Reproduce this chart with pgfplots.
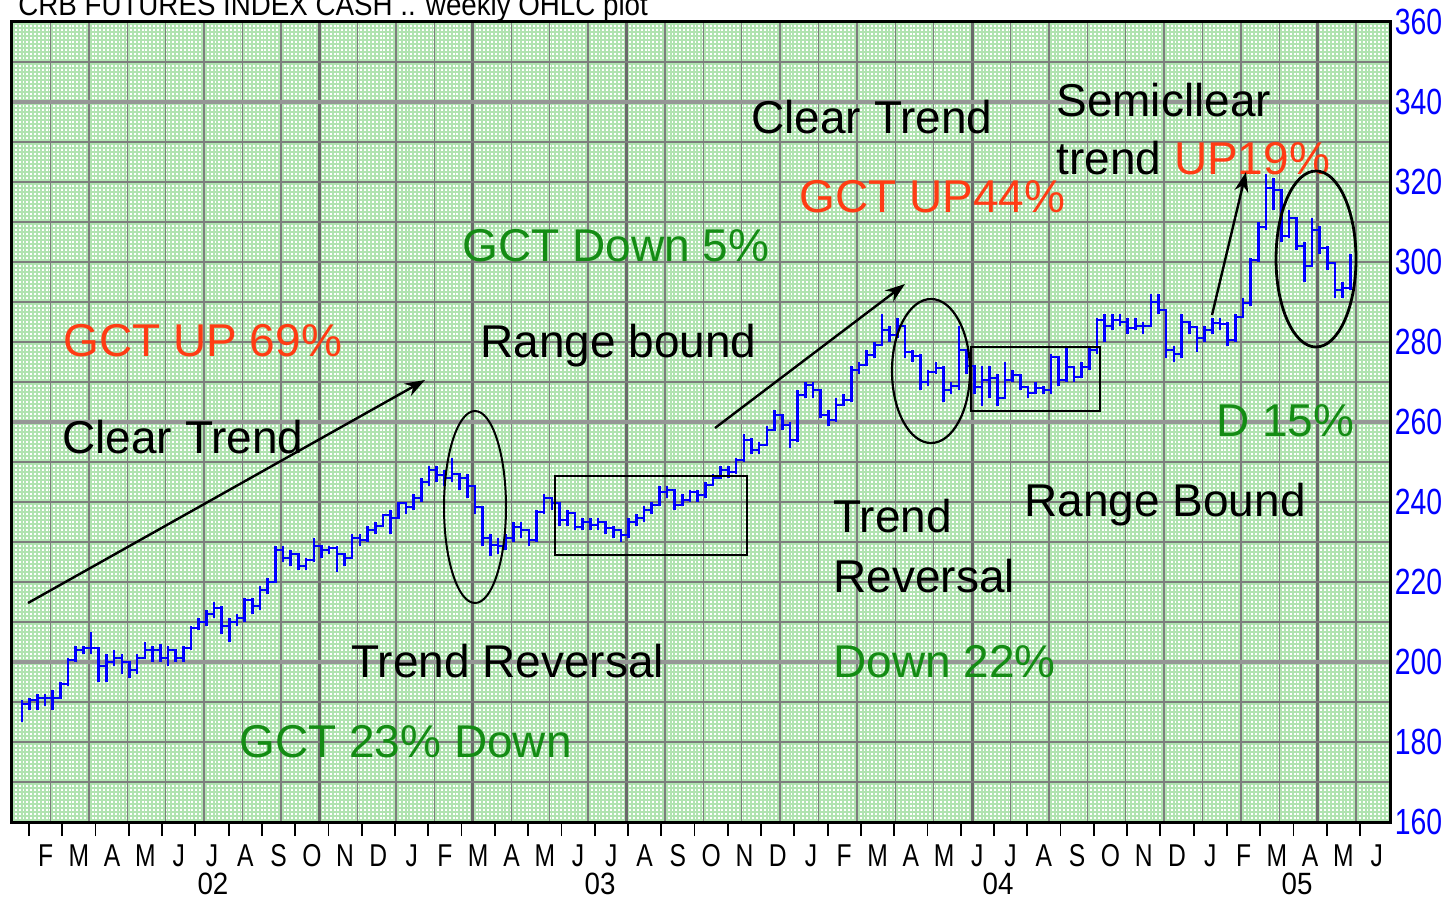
\documentclass[border=0pt]{standalone}
\usepackage{fontspec}
\setmainfont{Liberation Sans}
\newfontfamily\condfont{Liberation Sans}[FakeStretch=0.78]
\newfontfamily\titlefont{Liberation Sans}[FakeStretch=0.9]
\usepackage{pgfplots}
\pgfplotsset{compat=1.18}
\usepackage{pgfplotstable}
\usetikzlibrary{arrows.meta}

\definecolor{gridgreen}{RGB}{176,227,176}
\definecolor{gridgrey}{RGB}{125,125,125}
\definecolor{gridgreyl}{RGB}{150,150,150}
\definecolor{annred}{RGB}{255,60,20}
\definecolor{anngreen}{RGB}{20,140,20}
\definecolor{seriesblue}{RGB}{0,0,255}

% weekly CRB futures index: w = week number, h = high, l = low, c = close
\pgfplotstableread{
w h l c
0 190.5 185 189.5
1 191 188 190.5
2 192 188 191
3 192 189 191
4 193 188 191
5 195 191 194.5
6 201 194 200.5
7 204 200 203
8 204 202 203.5
9 207.5 202 203.5
10 203 195 199
11 202 195 200
12 203 199 201
13 202 197 200
14 200 196 198
15 202 197 201
16 205 201 203
17 204 200 203
18 204.5 200 201
19 204 199 203
20 203 200 201
21 204 200 203.5
22 209 203 208.5
23 211 208 210
24 213 209 212
25 215 211 213.5
26 214 207 209
27 211 205 210
28 212 209 211
29 216 210 215.5
30 216 212 214
31 219 213 218
32 221 217 220
33 229 221 228
34 229 225 226
35 228 224 227
36 227 223 224
37 226 223 225.5
38 231 225 229
39 229 226 228
40 229 227 228.5
41 229 222.5 227
42 227 224 226
43 232 226 231
44 232 229 230.5
45 234 230 233
46 235 232 234
47 237 234 236.75
48 238 232 236
49 240 236 239.75
50 240 237 238.75
51 242 238 241
52 246 240 245
53 249 244 248
54 249 245 246.75
55 248 244 246
56 251 245 247
57 247 243 246
58 247 241 244
59 244 237 238.75
60 238 229 231
61 232 226.5 229.25
62 231 227 229
63 232 228 231
64 235 230 233.75
65 235 231 233
66 233 229 230.5
67 238 230 237.5
68 242 237 241
69 241 238 239.75
70 238 234 235.5
71 238 234 237.25
72 236 233 233.75
73 236 233 235
74 236 233 234.25
75 236 233 235
76 235 232 233.5
77 234 231 233
78 233 230 231.75
79 236 231 235
80 237 234 236
81 239 235 238
82 240 237 239.25
83 244 239 242.5
84 244 241 243
85 243 238 239.25
86 242 239 240.5
87 243 240 242.5
88 243 240 241.75
89 245 241 244.25
90 247 244 246
91 249 246 248
92 249 246 247.5
93 251 247 250.5
94 257 250 255.5
95 256 252 253
96 255 252 254.25
97 259 254 258
98 263 258 261.75
99 262 258 259.25
100 260 253.5 255.5
101 268 255 266.75
102 270 266 269.25
103 270 266 268
104 268 261 261.75
105 263 259 260.5
106 266 260 264.25
107 267 264 265.5
108 274 265 273
109 275 272 274.25
110 278 274 276.75
111 280 276 279.25
112 287 279 283
113 284 280 281.75
114 286 281 284
115 284 276 277.5
116 278 275 276.5
117 277 268 270
118 273 269 272.5
119 275 272 273.5
120 274 265 268
121 270 267 269
122 284 268 278
123 278 272 274
124 274 267 268.75
125 274 264 270.5
126 274 266 271
127 272 264 266
128 275 266 270.5
129 273 270 271.75
130 272 268 268.75
131 269 266 267.25
132 270 267 268.5
133 269 267 268
134 277 267 276.25
135 276 269 270.5
136 279 270 273.75
137 274 270 271.25
138 275 271 273.75
139 279 273 278
140 286 277 285.5
141 287 280 284
142 287 283 285.5
143 287 284 285
144 286 282 283.5
145 286 283 284
146 285 282 284
147 292 284 290
148 292 287 288
149 288 276 278
150 279 275 277
151 287 276 285
152 285 282 283.75
153 284 277.5 281
154 284 280 283
155 286 282 284.75
156 286 283 284.5
157 285 279 280.5
158 287 280 286.25
159 291 286 289.75
160 301 289 300.5
161 310 300 308.75
162 322 308 318.5
163 321 313 318
164 318 305 306.5
165 313 306 311
166 311 303 304
167 305 295 299
168 311 299 308
169 309 302 303.5
170 304 298 299.75
171 300 291 293
172 295 291 293.5
173 302 293 301
}\crb

\begin{document}
\begin{tikzpicture}
\useasboundingbox (0,0) rectangle (724.5pt,451pt);

% ---- chart paper background (pixel-like frame: x right, y down) ----
\begin{scope}[shift={(0pt,451pt)},x=0.5pt,y=-0.5pt]
  \clip (12,22) rectangle (1390,822);
  \fill[white] (12,22) rectangle (1390,822);
  \draw[gridgreen,line width=0.95pt] \foreach \x in {13.9,17.74,...,1390} {(\x,22) -- (\x,822)};
  \draw[gridgreen,line width=0.95pt] \foreach \y in {24,28,...,822} {(12,\y) -- (1390,\y)};
  \draw[gridgrey,line width=0.7pt] \foreach \k in {1,...,35} {({12+38.4*\k},22) -- ({12+38.4*\k},822)};
  \draw[gridgrey!85!black,line width=1.5pt] \foreach \k in {8,12,16,25,34} {({12+38.4*\k},22) -- ({12+38.4*\k},822)};
  \draw[gridgrey,line width=0.7pt] \foreach \y in {62,102,...,782} {(12,\y) -- (1390,\y)};
  \draw[gridgreyl,line width=1.8pt] \foreach \y in {102,422,662} {(12,\y) -- (1390,\y)};
\end{scope}

\begin{axis}[
  at={(6pt,40pt)}, anchor=south west,
  scale only axis, width=689pt, height=400pt,
  xmin=-1.302, xmax=178.15, ymin=160, ymax=360,
  axis line style={line width=1.5pt, black},
  ytick={160,180,...,360},
  ytick pos=right, yticklabel pos=right,
  yticklabel style={font=\condfont\fontsize{18.2}{19}\selectfont, text=seriesblue, anchor=west, inner sep=0pt, xshift=2.2pt},
  /pgf/number format/assume math mode=true,
  major tick length=0pt,
  xtick pos=bottom,
  xtick={3.079,7.412,11.745,16.079,20.412,24.745,29.079,33.412,37.745,42.079,46.412,50.745,55.079,59.412,63.745,68.079,72.412,76.745,81.079,85.412,89.745,94.079,98.412,102.745,107.079,111.412,115.745,120.079,124.412,128.745,133.079,137.412,141.745,146.079,150.412,154.745,159.079,163.412,167.745,172.079,176.412},
  xticklabels={F,M,A,M,J,J,A,S,O,N,D,J,F,M,A,M,J,J,A,S,O,N,D,J,F,M,A,M,J,J,A,S,O,N,D,J,F,M,A,M,J},
  xticklabel style={font=\condfont\fontsize{15.8}{16}\selectfont, anchor=base, inner sep=0pt, yshift=-22pt},
  extra x ticks={0.912,5.245,9.579,13.912,18.245,22.579,26.912,31.245,35.579,39.912,44.245,48.579,52.912,57.245,61.579,65.912,70.245,74.579,78.912,83.245,87.579,91.912,96.245,100.579,104.912,109.245,113.579,117.912,122.245,126.579,130.912,135.245,139.579,143.912,148.245,152.579,156.912,161.245,165.579,169.912,174.245},
  extra x tick labels={},
  extra x tick style={tick align=outside, major tick length=7pt, tick style={black, line width=0.9pt}},
]
\addplot[seriesblue, line width=1.3pt, const plot, forget plot] table[x=w,y=c]{\crb};
\addplot[draw=none, forget plot, error bars/.cd, y dir=both, y explicit, error mark=none,
  error bar style={draw=seriesblue, line width=1.3pt}]
  table[x=w, y=c, y error plus expr=\thisrow{h}-\thisrow{c}, y error minus expr=\thisrow{c}-\thisrow{l}]{\crb};
\end{axis}

% ---- annotations (pixel-like frame: x right, y down) ----
\begin{scope}[shift={(0pt,451pt)},x=0.5pt,y=-0.5pt]
  \node[anchor=base west, inner sep=0pt, font=\titlefont\fontsize{15.4}{16}\selectfont] at (18,16) {CRB FUTURES INDEX CASH .. weekly OHLC plot};
  \begin{scope}[every node/.style={anchor=base west, inner sep=0pt, font=\fontsize{23}{27}\selectfont}]
  \node at (62,453) {Clear Trend};
  \node[text=annred] at (63,356) {GCT UP 69\%};
  \node at (480,357) {Range bound};
  \node[text=anngreen] at (462,261) {GCT Down 5\%};
  \node at (751,133) {Clear Trend};
  \node[text=annred] at (799,212) {GCT UP44\%};
  \node at (1056,117) {Semicllear};
  \node at (1056,174) {trend \textcolor{annred}{UP19\%}};
  \node[text=anngreen] at (1216,436) {D 15\%};
  \node at (1024,516) {Range Bound};
  \node at (833,532) {Trend};
  \node at (833,592) {Reversal};
  \node[text=anngreen] at (833,677) {Down 22\%};
  \node at (351,677) {Trend Reversal};
  \node[text=anngreen] at (239,757) {GCT 23\% Down};
  \end{scope}
  \begin{scope}[every node/.style={anchor=center, inner sep=0pt, font=\titlefont\fontsize{15.4}{16}\selectfont}]
  \node at (213,884) {02};
  \node at (600,884) {03};
  \node at (998,884) {04};
  \node at (1297,884) {05};
  \end{scope}
  \draw[line width=1.2pt, -{Stealth[length=10pt,width=7pt]}] (28,603) -- (425,380);
  \draw[line width=1.2pt, -{Stealth[length=10pt,width=7pt]}] (715,428) -- (905,284);
  \draw[line width=1.2pt, -{Stealth[length=10pt,width=7pt]}] (1212,315) -- (1246,172);
  \draw[line width=1pt] (475,507) ellipse [x radius=15.5pt, y radius=48pt];
  \draw[line width=1.1pt] (931,371) ellipse [x radius=19.5pt, y radius=36pt];
  \draw[line width=1.4pt] (1316,259) ellipse [x radius=20pt, y radius=44pt];
  \draw[line width=0.8pt] (555,476) rectangle (747,555);
  \draw[line width=0.8pt] (971,347) rectangle (1100,411);
\end{scope}
\end{tikzpicture}
\end{document}
